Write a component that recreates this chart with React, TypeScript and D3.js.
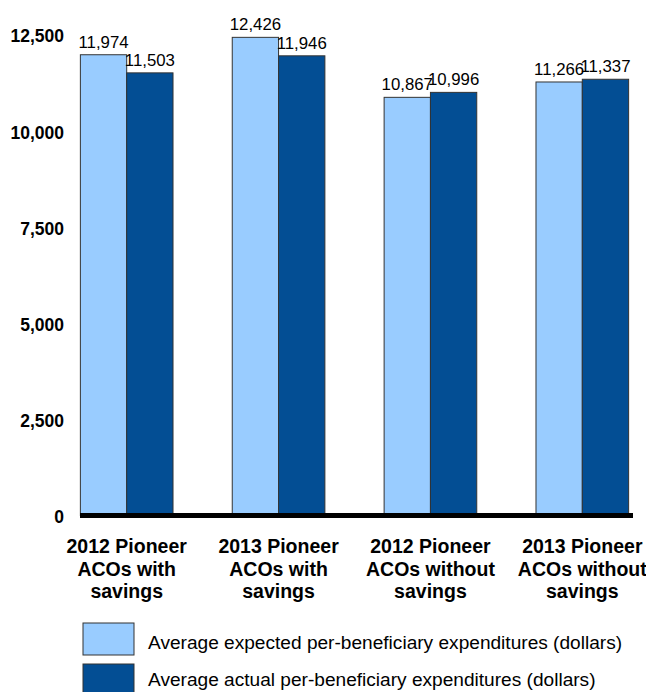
import React from "react";
import * as d3 from "d3";

const categories = [
  ["2012 Pioneer", "ACOs with", "savings"],
  ["2013 Pioneer", "ACOs with", "savings"],
  ["2012 Pioneer", "ACOs without", "savings"],
  ["2013 Pioneer", "ACOs without", "savings"],
];
const seriesNames = [
  "Average expected per-beneficiary expenditures (dollars)",
  "Average actual per-beneficiary expenditures (dollars)",
];
const expected = [11974, 12426, 10867, 11266];
const actual = [11503, 11946, 10996, 11337];
const yTicks = [0, 2500, 5000, 7500, 10000, 12500];
const colors = ["#99ccff", "#034e94"];

const W = 646;
const H = 692;
const font = "'Liberation Sans', Arial, sans-serif";

const App = () => {
  const y = d3.scaleLinear().domain([0, 12500]).range([515.5, 34.5]);
  const x = d3
    .scaleBand<number>()
    .domain(d3.range(categories.length))
    .range([50, 659])
    .paddingInner(0.39)
    .paddingOuter(0.2);
  const sub = d3.scaleBand<number>().domain([0, 1]).range([0, x.bandwidth()]);
  const series = [expected, actual];
  const fmt = d3.format(",");

  return (
    <svg
      width={W}
      height={H}
      style={{ position: "absolute", left: 0, top: 0, background: "#fff" }}
      fontFamily={font}
    >
      {/* y tick labels */}
      {yTicks.map((t) => (
        <text
          key={t}
          x={64}
          y={y(t) + 1.5}
          dy="0.36em"
          textAnchor="end"
          fontWeight="bold"
          fontSize={17.5}
          fill="#000"
        >
          {fmt(t)}
        </text>
      ))}

      {/* bars */}
      {categories.map((c, i) =>
        series.map((s, k) => {
          const bx = (x(i) as number) + (sub(k) as number);
          const bw = sub.bandwidth();
          return (
            <g key={`${i}-${k}`}>
              <rect
                x={bx}
                y={y(s[i])}
                width={bw}
                height={y(0) - y(s[i])}
                fill={colors[k]}
                stroke="#333"
                strokeWidth={1}
              />
              <text
                x={bx + bw / 2}
                y={y(s[i]) - 7}
                textAnchor="middle"
                fontSize={16.8}
                fill="#000"
              >
                {fmt(s[i])}
              </text>
            </g>
          );
        })
      )}

      {/* baseline */}
      <line x1={80} x2={633} y1={y(0)} y2={y(0)} stroke="#000" strokeWidth={5} />

      {/* category labels */}
      {categories.map((lines, i) => (
        <text
          key={i}
          x={(x(i) as number) + x.bandwidth() / 2}
          textAnchor="middle"
          fontWeight="bold"
          fontSize={19.5}
          fill="#000"
        >
          {lines.map((l, j) => (
            <tspan key={j} x={(x(i) as number) + x.bandwidth() / 2} y={553 + j * 22.5}>
              {l}
            </tspan>
          ))}
        </text>
      ))}

      {/* legend */}
      {seriesNames.map((n, k) => (
        <g key={n} transform={`translate(83,${623 + k * 41})`}>
          <rect width={51} height={32} fill={colors[k]} stroke="#333" strokeWidth={1} />
          <text x={65} y={26 - k * 4} fontSize={19.1} fill="#000">
            {n}
          </text>
        </g>
      ))}
    </svg>
  );
};

export default App;
